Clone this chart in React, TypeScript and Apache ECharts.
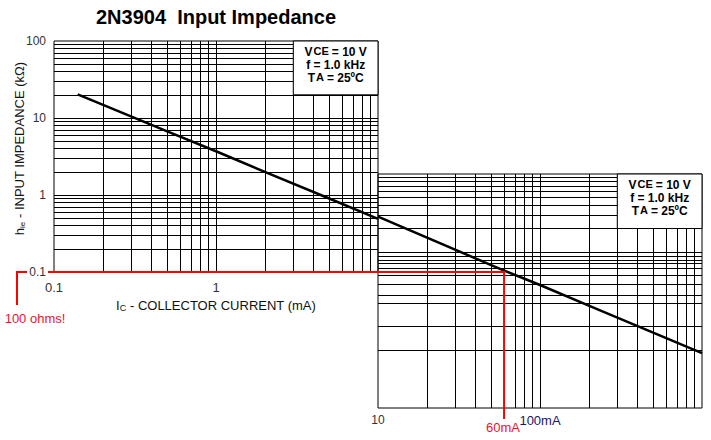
import React, { useEffect, useRef } from 'react';
import * as echarts from 'echarts';

// ---------------- data ----------------
const chartTitle = '2N3904  Input Impedance';

// panel 1 (0.1 .. 10 mA)
const lowRangeCurrent = [0.14, 0.5, 1, 2, 5, 10]; // mA
const lowRangeImpedance = [20.3, 6.7, 3.7, 2.0, 0.9, 0.49]; // kΩ

// panel 2 (10 .. 1000 mA), pasted extension
const highRangeCurrent = [10, 60, 100, 200, 1000]; // mA
const highRangeImpedance = [0.51, 0.104, 0.068, 0.037, 0.0091]; // kΩ

const leftXRange = [0.1, 10];
const leftYRange = [0.1, 100];
const rightXRange = [10, 1000];
const rightYRange = [0.0018, 1.8];

const logSteps = [1, 2, 3, 4, 5, 6, 7, 8, 9];

const leftXTickLabels: Record<string, string> = { '0.1': '0.1', '1': '1' };
const leftYTickLabels: Record<string, string> = { '0.1': '0.1', '1': '1', '10': '10', '100': '100' };
const rightXTickLabels: Record<string, string> = { '10': '10', '100': '{u|100mA}' };

const conditionLines = ['{b|V}{bs|CE}{b|= 10 V}', '{b|f = 1.0 kHz}', '{b|T}{bs|A}{b|= 25ºC}'];
const leftBoxX = [3, 10];
const leftBoxY = [20, 100];
const rightBoxX = [300, 1000];
const rightBoxY = [0.36, 1.8];

const limitImpedance = 0.1; // kΩ
const limitCurrent = 60; // mA
const limitImpedanceLabel = '100 ohms!';
const limitCurrentLabel = '60mA';

const xAxisName = '{m|I}{s|C}{m| - COLLECTOR CURRENT (mA)}';
const yAxisName = '{m|h}{s|ie}{m| - INPUT IMPEDANCE (kΩ)}';

// ---------------- component ----------------
const FONT = "'Liberation Sans', Arial, Helvetica, sans-serif";

function gridLineValues(min: number, max: number): number[] {
  const out: number[] = [];
  let base = min;
  while (base < max * 0.999) {
    for (const s of logSteps) {
      const v = base * s;
      if (v > min * 1.001 && v < max * 0.999) out.push(v);
    }
    base *= 10;
  }
  return out;
}

function key(v: number) {
  return String(+Number(v).toPrecision(6));
}

export default function App() {
  const ref = useRef<HTMLDivElement>(null);

  useEffect(() => {
    const el = ref.current!;
    const chart = echarts.init(el, null, { renderer: 'svg' });

    const gridMarkLine = (xs: number[], ys: number[]) => ({
      silent: true,
      symbol: ['none', 'none'],
      animation: false,
      label: { show: false },
      emphasis: { disabled: true },
      lineStyle: { color: '#000', width: 1, type: 'solid', opacity: 1 },
      data: [...xs.map((v) => ({ xAxis: v })), ...ys.map((v) => ({ yAxis: v }))],
    });

    const nameRich = {
      m: { fontSize: 13, fontFamily: FONT, color: '#111', lineHeight: 14, verticalAlign: 'top' },
      s: { fontSize: 9, fontFamily: FONT, color: '#111', lineHeight: 9, verticalAlign: 'bottom', padding: [4, 0, 0, 0] },
    };

    chart.setOption({
      animation: false,
      textStyle: { fontFamily: FONT },
      grid: [
        { left: 54, top: 41, width: 324, height: 231, show: true, borderColor: '#000', borderWidth: 1, backgroundColor: 'transparent', containLabel: false },
        { left: 378, top: 174, width: 324, height: 234, show: true, borderColor: '#000', borderWidth: 1, backgroundColor: 'transparent', containLabel: false },
      ],
      xAxis: [
        {
          type: 'log', logBase: 10, gridIndex: 0, min: leftXRange[0], max: leftXRange[1],
          axisLine: { show: false }, axisTick: { show: false }, splitLine: { show: false },
          axisLabel: {
            color: '#333', fontSize: 13, margin: 9, fontFamily: FONT,
            formatter: (v: number) => leftXTickLabels[key(v)] ?? '',
          },
          name: xAxisName, nameLocation: 'middle', nameGap: 23,
          nameTextStyle: { rich: nameRich },
        },
        {
          type: 'log', logBase: 10, gridIndex: 1, min: rightXRange[0], max: rightXRange[1],
          axisLine: { show: false }, axisTick: { show: false }, splitLine: { show: false },
          axisLabel: {
            color: '#333', fontSize: 12, margin: 6, fontFamily: FONT,
            formatter: (v: number) => rightXTickLabels[key(v)] ?? '',
            rich: { u: { color: '#16166e', fontSize: 13, fontFamily: FONT } },
          },
        },
      ],
      yAxis: [
        {
          type: 'log', logBase: 10, gridIndex: 0, min: leftYRange[0], max: leftYRange[1],
          axisLine: { show: false }, axisTick: { show: false }, splitLine: { show: false },
          axisLabel: {
            color: '#333', fontSize: 12, margin: 8, fontFamily: FONT,
            formatter: (v: number) => leftYTickLabels[key(v)] ?? '',
          },
        },
        {
          type: 'log', logBase: 10, gridIndex: 1, min: rightYRange[0], max: rightYRange[1],
          show: false, splitLine: { show: false },
        },
      ],
      series: [
        {
          type: 'line', xAxisIndex: 0, yAxisIndex: 0, silent: true, z: 3,
          symbol: 'none', showSymbol: false,
          lineStyle: { color: '#000', width: 2.5 }, itemStyle: { color: '#000' },
          data: lowRangeCurrent.map((c, i) => [c, lowRangeImpedance[i]]),
          markLine: gridMarkLine(gridLineValues(leftXRange[0], leftXRange[1]), gridLineValues(leftYRange[0], leftYRange[1])),
        },
        {
          type: 'line', xAxisIndex: 1, yAxisIndex: 1, silent: true, z: 3,
          symbol: 'none', showSymbol: false,
          lineStyle: { color: '#000', width: 2.5 }, itemStyle: { color: '#000' },
          data: highRangeCurrent.map((c, i) => [c, highRangeImpedance[i]]),
          markLine: gridMarkLine(gridLineValues(rightXRange[0], rightXRange[1]), gridLineValues(rightYRange[0], rightYRange[1])),
        },
      ],
    });

    const px = (idx: number, pt: number[]) =>
      chart.convertToPixel({ xAxisIndex: idx, yAxisIndex: idx }, pt) as number[];

    const boxRich = {
      b: { fontSize: 12, fontWeight: 'bold', fontFamily: FONT, fill: '#000', lineHeight: 11, verticalAlign: 'top' },
      bs: { fontSize: 11, fontWeight: 'bold', fontFamily: FONT, fill: '#000', lineHeight: 10, verticalAlign: 'bottom', padding: [2, 3, 0, 1] },
    };
    const lineOffsets = [10, 23, 36];

    const box = (idx: number, bx: number[], by: number[]) => {
      const a = px(idx, [bx[0], by[1]]);
      const b = px(idx, [bx[1], by[0]]);
      const cx = (a[0] + b[0]) / 2;
      return [
        {
          type: 'rect', z: 50,
          shape: { x: a[0], y: a[1], width: b[0] - a[0], height: b[1] - a[1] },
          style: { fill: '#fff', stroke: '#000', lineWidth: 1 },
        },
        ...conditionLines.map((t, i) => ({
          type: 'text', z: 51, x: cx, y: a[1] + lineOffsets[i],
          style: {
            text: t, rich: boxRich,
            align: 'center', textAlign: 'center', verticalAlign: 'middle', textVerticalAlign: 'middle',
          },
        })),
      ];
    };

    const origin = px(0, [leftXRange[0], limitImpedance]);
    const cross = px(1, [limitCurrent, limitImpedance]);
    const crossBottom = px(1, [limitCurrent, rightYRange[0]]);
    const g1TopLeft = px(0, [leftXRange[0], leftYRange[1]]);
    const g1BottomRight = px(0, [leftXRange[1], leftYRange[0]]);
    const g1CenterX = (g1TopLeft[0] + g1BottomRight[0]) / 2;

    const red = '#ff0000';
    const redText = '#f01030';

    chart.setOption({
      graphic: [
        {
          type: 'text', z: 100, x: g1CenterX, y: 16.5,
          style: {
            text: chartTitle, font: `bold 20px ${FONT}`, fill: '#000',
            align: 'center', textAlign: 'center', verticalAlign: 'middle', textVerticalAlign: 'middle',
          },
        },
        {
          type: 'text', z: 100, x: g1TopLeft[0] - 34.5, y: (g1TopLeft[1] + g1BottomRight[1]) / 2 - 8,
          rotation: Math.PI / 2,
          style: {
            text: yAxisName,
            rich: {
              m: { fontSize: 13, fontFamily: FONT, fill: '#111', lineHeight: 14, verticalAlign: 'top' },
              s: { fontSize: 8, fontFamily: FONT, fill: '#111', lineHeight: 8, verticalAlign: 'bottom', padding: [4, 0, 0, 0] },
            },
            align: 'center', textAlign: 'center', verticalAlign: 'middle', textVerticalAlign: 'middle',
          },
        },
        ...box(0, leftBoxX, leftBoxY),
        ...box(1, rightBoxX, rightBoxY),
        {
          type: 'polyline', z: 100,
          shape: { points: [[origin[0] - 37, origin[1] + 33], [origin[0] - 37, origin[1]], [origin[0] - 27, origin[1]]] },
          style: { stroke: red, lineWidth: 2, fill: null },
        },
        {
          type: 'polyline', z: 100,
          shape: { points: [[origin[0] - 6, origin[1]], [cross[0], cross[1]], [cross[0], crossBottom[1] + 11]] },
          style: { stroke: red, lineWidth: 2, fill: null },
        },
        {
          type: 'text', z: 100, x: origin[0] - 19, y: origin[1] + 46,
          style: {
            text: limitImpedanceLabel, font: `13px ${FONT}`, fill: redText,
            align: 'center', textAlign: 'center', verticalAlign: 'middle', textVerticalAlign: 'middle',
          },
        },
        {
          type: 'text', z: 100, x: cross[0] - 1, y: crossBottom[1] + 19,
          style: {
            text: limitCurrentLabel, font: `13px ${FONT}`, fill: redText,
            align: 'center', textAlign: 'center', verticalAlign: 'middle', textVerticalAlign: 'middle',
          },
        },
      ],
    });

    return () => chart.dispose();
  }, []);

  return (
    <div
      ref={ref}
      style={{ position: 'absolute', left: 0, top: 0, width: 711, height: 440, background: '#fff' }}
    />
  );
}
